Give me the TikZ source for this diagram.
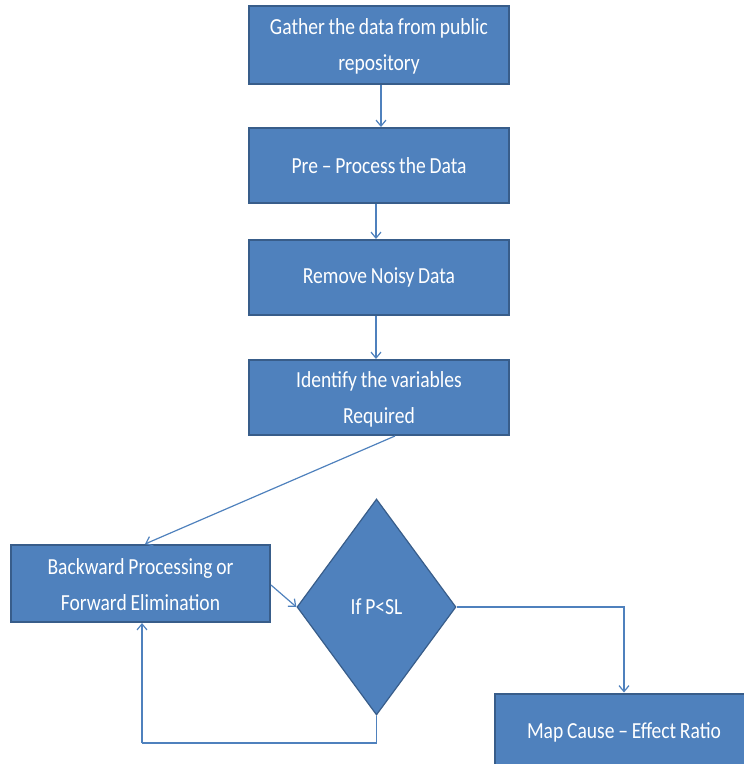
\documentclass[tikz,border=0pt]{standalone}
\usepackage{fontspec}
\setmainfont{Carlito}[FakeStretch=0.85,WordSpace=0.85]
\usetikzlibrary{shapes.geometric,arrows.meta}
\definecolor{boxfill}{HTML}{4F81BD}
\definecolor{boxline}{HTML}{385D8A}
\definecolor{linkcol}{HTML}{4F81BD}
\tikzset{
  procbox/.style={rectangle, fill=boxfill, draw=boxline, line width=2pt,
    text=white, align=center, inner sep=0pt,
    font=\fontsize{23}{36}\selectfont},
  decbox/.style={diamond, fill=boxfill, draw=boxline, line width=1.2pt,
    text=white, align=center, inner sep=0pt,
    minimum width=159pt, minimum height=216pt,
    font=\fontsize{23}{36}\selectfont},
  link/.style={draw=linkcol, line width=1.2pt,
    -{Straight Barb[length=6pt,width=10pt,line width=1.2pt]}},
  plain/.style={draw=linkcol, line width=1.2pt}
}
\begin{document}
\begin{tikzpicture}[x=1pt,y=-1pt]
  \useasboundingbox (0,0) rectangle (744,764);
  \begin{scope}
  \clip (0,0) rectangle (744,764);

  \node[procbox, minimum width=260pt, minimum height=78pt] (b1) at (379,45)
    {\rule{0pt}{19pt}Gather the data from public\\repository};
  \node[procbox, minimum width=260pt, minimum height=75pt] (b2) at (379,165.5)
    {Pre -- Process the Data};
  \node[procbox, minimum width=260pt, minimum height=75pt] (b3) at (379,277.5)
    {Remove Noisy Data};
  \node[procbox, minimum width=260pt, minimum height=75pt] (b4) at (379,397.5)
    {\rule{0pt}{19pt}Identify the variables\\Required};
  \node[procbox, minimum width=259pt, minimum height=77pt] (b5) at (140.5,583.5)
    {\rule{0pt}{19pt}Backward Processing or\\Forward Elimination};
  \node[decbox] (d) at (376.5,607) {If P<SL};
  \node[procbox, minimum width=258pt, minimum height=77pt] (b6) at (624,732)
    {Map Cause -- Effect Ratio};

  % main sequence
  \draw[link] ([xshift=2pt]b1.south) -- ([xshift=2pt]b2.north);
  \draw[link] ([xshift=-3pt]b2.south) -- ([xshift=-3pt]b3.north);
  \draw[link] ([xshift=-3pt]b3.south) -- ([xshift=-3pt]b4.north);
  \draw[link] ([xshift=16pt]b4.south) -- ([xshift=4.5pt]b5.north);
  \draw[link] ([yshift=-1.5pt]b5.east) -- (d.west);

  % loop back from the decision
  \coordinate (lp) at (142,743);
  \draw[plain] (d.south) |- (lp);
  \draw[link] (lp) -- (lp |- b5.south);

  % exit to the result
  \draw[link] (d.east) -| (b6.north);
  \end{scope}
\end{tikzpicture}
\end{document}
